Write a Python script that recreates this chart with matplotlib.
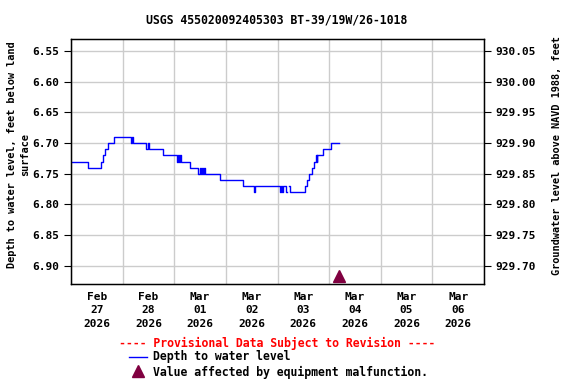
import matplotlib
matplotlib.use("Agg")
import matplotlib.pyplot as plt
import numpy as np
import pandas as pd

title = "USGS 455020092405303 BT-39/19W/26-1018"

times = ["2026-02-27 00:00", "2026-02-27 08:00", "2026-02-27 14:00", "2026-02-27 14:45",
         "2026-02-27 15:45", "2026-02-27 17:00", "2026-02-27 20:00", "2026-02-28 04:00",
         "2026-02-28 04:30", "2026-02-28 05:00", "2026-02-28 10:45", "2026-02-28 11:45",
         "2026-02-28 12:15", "2026-02-28 18:45", "2026-03-01 01:30", "2026-03-01 01:45",
         "2026-03-01 02:15", "2026-03-01 02:45", "2026-03-01 03:00", "2026-03-01 07:15",
         "2026-03-01 11:00", "2026-03-01 11:45", "2026-03-01 12:15", "2026-03-01 13:00",
         "2026-03-01 13:30", "2026-03-01 14:00", "2026-03-01 14:15", "2026-03-01 21:30",
         "2026-03-02 08:00", "2026-03-02 13:15", "2026-03-02 13:45", "2026-03-03 01:15",
         "2026-03-03 01:45", "2026-03-03 02:00", "2026-03-03 02:30", "2026-03-03 04:00",
         "2026-03-03 04:30", "2026-03-03 05:30", "2026-03-03 05:45", "2026-03-03 12:45",
         "2026-03-03 13:30", "2026-03-03 14:45", "2026-03-03 16:00", "2026-03-03 17:00",
         "2026-03-03 18:00", "2026-03-03 18:15", "2026-03-03 18:30", "2026-03-03 21:00",
         "2026-03-04 00:45", "2026-03-04 04:30"]
depth = [6.73, 6.74, 6.73, 6.72,
         6.71, 6.70, 6.69, 6.70,
         6.69, 6.70, 6.71, 6.70,
         6.71, 6.72, 6.73, 6.72,
         6.73, 6.72, 6.73, 6.74,
         6.75, 6.74, 6.75, 6.74,
         6.75, 6.74, 6.75, 6.76,
         6.77, 6.78, 6.77, 6.78,
         6.77, 6.78, 6.77, 6.78,
         np.nan, 6.77, 6.78, 6.77,
         6.76, 6.75, 6.74, 6.73,
         6.72, 6.73, 6.72, 6.71,
         6.70, 6.70]

malf_time = ["2026-03-04 04:30"]
malf_depth = [6.916]

yticks = [6.55, 6.60, 6.65, 6.70, 6.75, 6.80, 6.85, 6.90]
datum_offset = 936.60
day_labels = ["Feb\n27\n2026", "Feb\n28\n2026", "Mar\n01\n2026", "Mar\n02\n2026",
              "Mar\n03\n2026", "Mar\n04\n2026", "Mar\n05\n2026", "Mar\n06\n2026"]

t = pd.to_datetime(times)
mt = pd.to_datetime(malf_time)

font = dict(family="DejaVu Sans Mono", weight="bold", size=8)
font_big = dict(family="DejaVu Sans Mono", weight="bold", size=8.3)
font_lab = dict(family="DejaVu Sans Mono", weight="bold", size=7.4)

fig = plt.figure(figsize=(5.76, 3.84), dpi=100)
ax = fig.add_axes([71/576, 1-284/384, (484-71)/576, (284-39)/384])

ax.step(t, depth, where="post", color="#0000ff", lw=1)
ax.plot(mt, malf_depth, marker="^", color="#800040", ms=8, ls="none", clip_on=False)

start = pd.Timestamp("2026-02-27 00:00")
end = pd.Timestamp("2026-03-07 00:00")
ax.set_xlim(start, end)
ax.set_ylim(6.9295, 6.5305)

majors = pd.date_range(start, end, freq="D")
noons = pd.date_range("2026-02-27 12:00", periods=8, freq="D")
ax.set_xticks(majors)
ax.set_xticklabels([""] * len(majors))
ax.set_xticks(noons, minor=True)
ax.set_xticklabels(day_labels, minor=True, fontdict=font, linespacing=1.45)
ax.tick_params(axis="x", which="both", length=0, pad=5.5)
ax.grid(True, which="major", color="#cccccc", lw=1)
ax.set_axisbelow(True)

ax.set_yticks(yticks)
ax.set_yticklabels([f"{v:.2f}" for v in yticks], fontdict=font)
ax.tick_params(axis="y", length=5, direction="out")
for s in ax.spines.values():
    s.set_linewidth(1)

ax2 = ax.twinx()
ax2.set_ylim(datum_offset - 6.9295, datum_offset - 6.5305)
ax2.set_yticks([datum_offset - v for v in yticks])
ax2.set_yticklabels([f"{datum_offset - v:.2f}" for v in yticks], fontdict=font)
ax2.tick_params(axis="y", length=5, direction="out")

fig.text(18.5/576, 1-155/384, "Depth to water level, feet below land\nsurface",
         rotation=90, ha="center", va="center", multialignment="center",
         linespacing=1.35, fontdict=font_lab)
fig.text(557/576, 1-156/384, "Groundwater level above NAVD 1988, feet",
         rotation=90, ha="center", va="center", fontdict=font_lab)

fig.text(277/576, 1-20/384, title, ha="center", va="center", fontdict=font_big)
fig.text(277/576, 1-343/384, "---- Provisional Data Subject to Revision ----",
         ha="center", va="center", color="red", fontdict=font_big)
fig.lines.append(plt.Line2D([129/576, 147/576], [1-356.5/384]*2, color="#0000ff", lw=1,
                            transform=fig.transFigure))
fig.text(153/576, 1-356.5/384, "Depth to water level", ha="left", va="center", fontdict=font_big)
fig.lines.append(plt.Line2D([138/576], [1-371/384], marker="^", color="#800040", ms=8,
                            ls="none", transform=fig.transFigure))
fig.text(153/576, 1-372/384, "Value affected by equipment malfunction.", ha="left",
         va="center", fontdict=font_big)

fig.savefig("out.png", dpi=100)
